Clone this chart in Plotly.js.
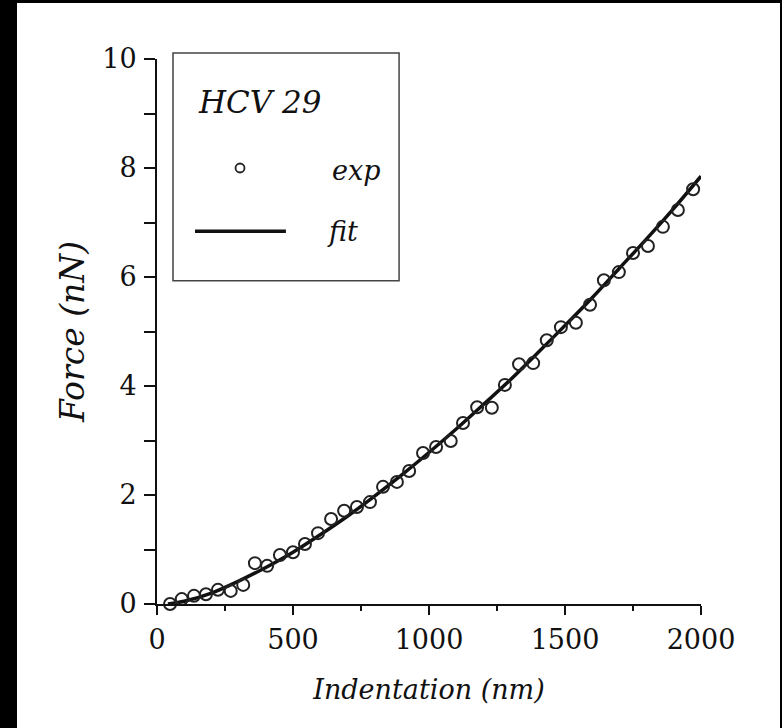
<!DOCTYPE html>
<html>
<head>
<meta charset="utf-8">
<script src="https://cdn.plot.ly/plotly-3.0.1.min.js"></script>
<style>
  html, body { margin: 0; padding: 0; background: #000; width: 782px; height: 728px; overflow: hidden; }
  #chart { position: absolute; left: 17px; top: 3px; width: 763px; height: 725px; background: #fff; }
</style>
</head>
<body>
<div id="chart"></div>
<script>
// Experimental points (indentation in nm, force in nN)
const expIndentation = [48, 91, 136, 180, 224, 271, 317, 360, 405, 452, 500, 544, 592, 640, 688, 735, 783, 831, 882, 927,
  978, 1026, 1080, 1125, 1177, 1231, 1279, 1331, 1383, 1433, 1485, 1540, 1592, 1643, 1698, 1750, 1805, 1860, 1915, 1971];
const expForce = [0.00, 0.09, 0.15, 0.18, 0.26, 0.24, 0.35, 0.75, 0.70, 0.90, 0.95, 1.10, 1.30, 1.56, 1.71, 1.78, 1.87, 2.15, 2.24, 2.44,
  2.77, 2.88, 2.99, 3.32, 3.61, 3.60, 4.02, 4.40, 4.42, 4.84, 5.08, 5.16, 5.49, 5.94, 6.09, 6.44, 6.57, 6.92, 7.23, 7.61];

// Fit curve
const fitIndentation = [40, 100, 200, 300, 400, 500, 600, 700, 800, 900, 1000, 1100, 1200, 1300, 1400, 1500, 1600, 1700, 1800, 1900, 2000];
const fitForce = [0.00, 0.05, 0.20, 0.42, 0.67, 0.95, 1.27, 1.61, 1.98, 2.37, 2.78, 3.21, 3.66, 4.12, 4.61, 5.11, 5.62, 6.16, 6.70, 7.26, 7.85];

const xTicks = [0, 500, 1000, 1500, 2000];
const yTicks = [0, 2, 4, 6, 8, 10];

const legendTitle = 'HCV 29';
const legendExp = 'exp';
const legendFit = 'fit';

const FONT = 'DejaVu Serif, Liberation Serif, serif';
const INK = '#111';

const traces = [
  {
    x: fitIndentation, y: fitForce, type: 'scatter', mode: 'lines', name: legendFit,
    line: { color: INK, width: 3.5, shape: 'spline', smoothing: 0.8 }, showlegend: false, cliponaxis: false
  },
  {
    x: expIndentation, y: expForce, type: 'scatter', mode: 'markers', name: legendExp,
    marker: { symbol: 'circle-open', size: 12, color: '#222', line: { width: 2, color: '#222' } },
    showlegend: false, cliponaxis: false
  }
];

const layout = {
  width: 763, height: 725,
  margin: { l: 140, r: 79, t: 56, b: 124 },
  paper_bgcolor: '#fff', plot_bgcolor: '#fff',
  showlegend: false,
  font: { family: FONT, color: INK },
  xaxis: {
    range: [0, 2000], tickvals: xTicks, ticktext: xTicks.map(String),
    ticks: 'outside', ticklen: 9, tickwidth: 2, tickcolor: INK,
    minor: { dtick: 250, tick0: 0, ticks: 'outside', ticklen: 5, tickwidth: 2, tickcolor: INK, showgrid: false },
    showline: true, linewidth: 2, linecolor: INK, showgrid: false, zeroline: false,
    tickfont: { family: FONT, size: 27, color: INK },
    ticklabelstandoff: 2,
    title: { text: '<i>Indentation (nm)</i>', font: { family: FONT, size: 27, color: INK }, standoff: 26 }
  },
  yaxis: {
    range: [0, 10], tickvals: yTicks, ticktext: yTicks.map(String),
    ticks: 'outside', ticklen: 11, tickwidth: 2, tickcolor: INK,
    minor: { dtick: 1, tick0: 0, ticks: 'outside', ticklen: 11, tickwidth: 2, tickcolor: INK, showgrid: false },
    showline: true, linewidth: 2, linecolor: INK, showgrid: false, zeroline: false,
    tickfont: { family: FONT, size: 27, color: INK },
    ticklabelstandoff: 2,
    title: { text: '<i>Force (nN)</i>', font: { family: FONT, size: 33, color: INK }, standoff: 8 }
  },
  shapes: [
    { type: 'rect', xref: 'paper', yref: 'paper', x0: 0.0294, x1: 0.445, y0: 0.593, y1: 1.011,
      line: { color: '#444', width: 1.5 }, fillcolor: 'rgba(0,0,0,0)' },
    { type: 'circle', xref: 'paper', yref: 'paper', xsizemode: 'pixel', ysizemode: 'pixel',
      xanchor: 0.1526, yanchor: 0.800, x0: -4.5, x1: 4.5, y0: -4.5, y1: 4.5,
      line: { color: '#222', width: 1.8 } },
    { type: 'line', xref: 'paper', yref: 'paper', x0: 0.0699, x1: 0.237, y0: 0.684, y1: 0.684,
      line: { color: INK, width: 3.5 } }
  ],
  annotations: [
    { xref: 'paper', yref: 'paper', x: 0.0717, y: 0.921, xanchor: 'left', yanchor: 'middle', showarrow: false,
      text: '<i>' + legendTitle + '</i>', font: { family: FONT, size: 31, color: INK } },
    { xref: 'paper', yref: 'paper', x: 0.318, y: 0.796, xanchor: 'left', yanchor: 'middle', showarrow: false,
      text: '<i>' + legendExp + '</i>', font: { family: FONT, size: 27, color: INK } },
    { xref: 'paper', yref: 'paper', x: 0.309, y: 0.683, xanchor: 'left', yanchor: 'middle', showarrow: false,
      text: '<i>' + legendFit + '</i>', font: { family: FONT, size: 27, color: INK } }
  ]
};

Plotly.newPlot('chart', traces, layout, { displayModeBar: false, staticPlot: true });
</script>
</body>
</html>
